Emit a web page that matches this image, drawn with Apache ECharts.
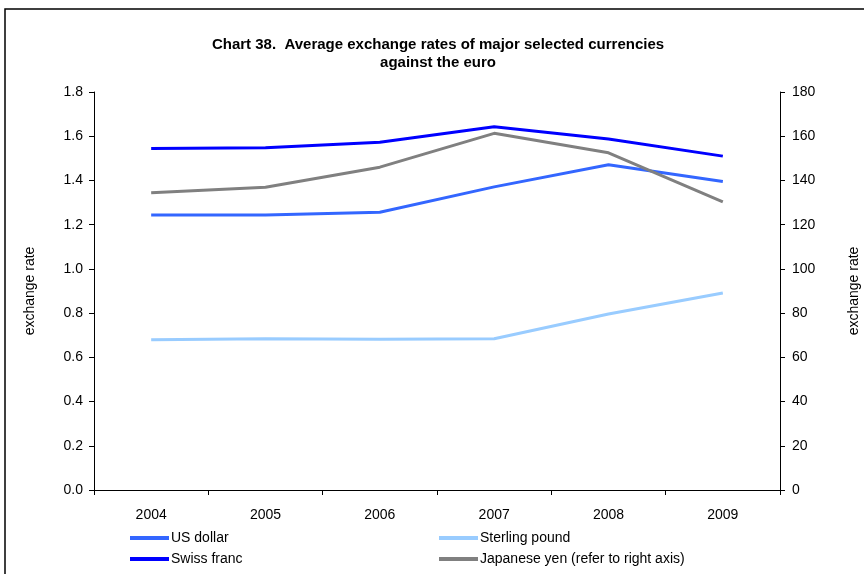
<!DOCTYPE html>
<html>
<head>
<meta charset="utf-8">
<title>Chart 38</title>
<script src="https://cdn.jsdelivr.net/npm/echarts@6/dist/echarts.min.js"></script>
<style>
  html, body { margin: 0; padding: 0; background: #fff; }
  #main { width: 864px; height: 574px; }
</style>
</head>
<body>
<div id="main"></div>
<script>
var years = ['2004', '2005', '2006', '2007', '2008', '2009'];
var usDollar = [1.244, 1.244, 1.256, 1.371, 1.471, 1.395];
var sterling = [0.679, 0.684, 0.682, 0.684, 0.796, 0.891];
var swissFranc = [1.544, 1.548, 1.573, 1.643, 1.587, 1.510];
var japaneseYen = [134.4, 136.9, 146.0, 161.3, 152.5, 130.3];

var font = 'Liberation Sans, Arial, sans-serif';
var chart = echarts.init(document.getElementById('main'));

function line(name, data, color, axis) {
    return {
        name: name,
        type: 'line',
        yAxisIndex: axis,
        data: data,
        symbol: 'none',
        lineStyle: { color: color, width: 3 },
        itemStyle: { color: color },
        animation: false
    };
}

function legendCol(items, left) {
    return {
        data: items,
        orient: 'vertical',
        left: left,
        top: 531,
        padding: 0,
        itemWidth: 39,
        itemHeight: 4,
        itemGap: 7,
        icon: 'rect',
        textStyle: { fontSize: 14, color: '#000', padding: [0, 0, 0, -3] }
    };
}

chart.setOption({
    textStyle: { fontFamily: font },
    graphic: [{
        type: 'rect',
        shape: { x: 5, y: 9, width: 900, height: 700 },
        style: { fill: 'none', stroke: '#000', lineWidth: 1.5 }
    }],
    title: {
        text: 'Chart 38.  Average exchange rates of major selected currencies\nagainst the euro',
        left: 438,
        textAlign: 'center',
        top: 36,
        padding: 0,
        textStyle: { fontSize: 15, fontWeight: 'bold', color: '#000', lineHeight: 18, fontFamily: font }
    },
    legend: [
        legendCol(['US dollar', 'Swiss franc'], 130),
        legendCol(['Sterling pound', 'Japanese yen (refer to right axis)'], 439)
    ],
    grid: { left: 94, right: 84, top: 92, bottom: 84, outerBoundsMode: 'none' },
    xAxis: {
        type: 'category',
        data: years,
        boundaryGap: true,
        axisLine: { lineStyle: { color: '#000', width: 1 } },
        axisTick: { show: true, length: 5, lineStyle: { color: '#000' } },
        axisLabel: { color: '#000', fontSize: 14, margin: 18 },
        splitLine: { show: false }
    },
    yAxis: [{
        type: 'value',
        min: 0,
        max: 1.8,
        interval: 0.2,
        name: 'exchange rate',
        nameLocation: 'middle',
        nameGap: 57,
        nameTextStyle: { color: '#000', fontSize: 14 },
        axisLine: { show: true, lineStyle: { color: '#000' } },
        axisTick: { show: true, length: 5, lineStyle: { color: '#000' } },
        axisLabel: { color: '#000', fontSize: 14, margin: 11, formatter: function (v) { return v.toFixed(1); } },
        splitLine: { show: false }
    }, {
        type: 'value',
        min: 0,
        max: 180,
        interval: 20,
        position: 'right',
        name: 'exchange rate',
        nameLocation: 'middle',
        nameGap: 67,
        nameRotate: 90,
        nameTextStyle: { color: '#000', fontSize: 14 },
        axisLine: { show: true, lineStyle: { color: '#000' } },
        axisTick: { show: true, length: 5, lineStyle: { color: '#000' } },
        axisLabel: { color: '#000', fontSize: 14, margin: 12 },
        splitLine: { show: false }
    }],
    series: [
        line('US dollar', usDollar, '#3366ff', 0),
        line('Sterling pound', sterling, '#99ccff', 0),
        line('Swiss franc', swissFranc, '#0000ff', 0),
        line('Japanese yen (refer to right axis)', japaneseYen, '#808080', 1)
    ]
});
</script>
</body>
</html>
